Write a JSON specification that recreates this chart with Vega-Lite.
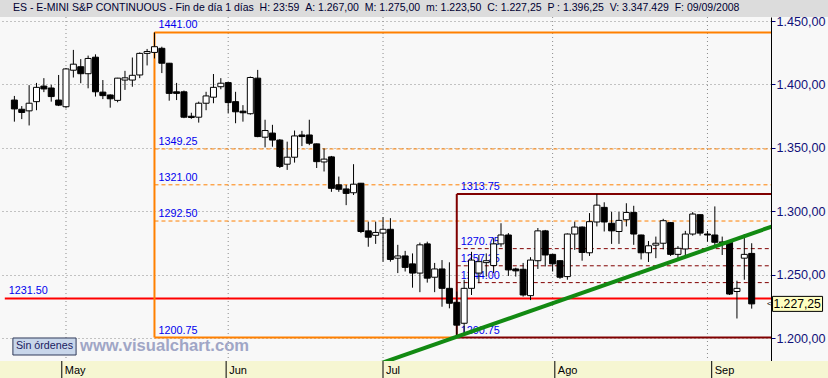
{
"$schema":"https://vega.github.io/schema/vega-lite/v6.json",
"background":"#f8f8f8",
"padding":0,
"spacing":0,
"bounds":"flush",
"config":{"view":{"stroke":null},"font":"Liberation Sans"},
"datasets":{
"ohlc":[
{"d":"2008-04-22","i":0,"o":1387.75,"h":1391,"l":1370.75,"c":1380.75},
{"d":"2008-04-23","i":1,"o":1380.5,"h":1383,"l":1372.75,"c":1378},
{"d":"2008-04-24","i":2,"o":1379.25,"h":1399.5,"l":1367.75,"c":1385.25},
{"d":"2008-04-25","i":3,"o":1386.5,"h":1401.25,"l":1379.75,"c":1397.75},
{"d":"2008-04-28","i":4,"o":1398.75,"h":1405,"l":1394,"c":1396.5},
{"d":"2008-04-29","i":5,"o":1397.25,"h":1399.75,"l":1386.5,"c":1390.5},
{"d":"2008-04-30","i":6,"o":1387.75,"h":1407.5,"l":1383,"c":1383.75},
{"d":"2008-05-01","i":7,"o":1382.5,"h":1413,"l":1381.25,"c":1412.25},
{"d":"2008-05-02","i":8,"o":1411.25,"h":1427.25,"l":1405.5,"c":1416},
{"d":"2008-05-05","i":9,"o":1414,"h":1420,"l":1401,"c":1408.5},
{"d":"2008-05-06","i":10,"o":1408.5,"h":1422.75,"l":1397,"c":1420.5},
{"d":"2008-05-07","i":11,"o":1421.5,"h":1423.75,"l":1390.5,"c":1394.25},
{"d":"2008-05-08","i":12,"o":1394,"h":1403.5,"l":1388.5,"c":1391.25},
{"d":"2008-05-09","i":13,"o":1391.75,"h":1392.25,"l":1381.75,"c":1388.75},
{"d":"2008-05-12","i":14,"o":1387.5,"h":1405.25,"l":1386,"c":1405},
{"d":"2008-05-13","i":15,"o":1403.5,"h":1410.75,"l":1395.75,"c":1405.25},
{"d":"2008-05-14","i":16,"o":1403.5,"h":1421.25,"l":1398.25,"c":1407.25},
{"d":"2008-05-15","i":17,"o":1407.5,"h":1425.25,"l":1405,"c":1424.5},
{"d":"2008-05-16","i":18,"o":1424.5,"h":1428,"l":1415,"c":1426},
{"d":"2008-05-19","i":19,"o":1425.25,"h":1441,"l":1420.5,"c":1429.75},
{"d":"2008-05-20","i":20,"o":1428.5,"h":1429.75,"l":1409,"c":1416.75},
{"d":"2008-05-21","i":21,"o":1416.75,"h":1417,"l":1387.25,"c":1393},
{"d":"2008-05-22","i":22,"o":1394.25,"h":1401.25,"l":1387.75,"c":1393},
{"d":"2008-05-23","i":23,"o":1394.25,"h":1395.25,"l":1373.5,"c":1374.25},
{"d":"2008-05-26","i":24,"o":1375,"h":1377.75,"l":1373,"c":1374},
{"d":"2008-05-27","i":25,"o":1374.25,"h":1386.5,"l":1370,"c":1385.25},
{"d":"2008-05-28","i":26,"o":1385.25,"h":1394.25,"l":1379.75,"c":1391},
{"d":"2008-05-29","i":27,"o":1390,"h":1408.25,"l":1385.25,"c":1397.75},
{"d":"2008-05-30","i":28,"o":1398.25,"h":1405,"l":1396.25,"c":1401},
{"d":"2008-06-02","i":29,"o":1401.5,"h":1401.5,"l":1377.5,"c":1385.75},
{"d":"2008-06-03","i":30,"o":1386.5,"h":1394.25,"l":1369.5,"c":1378.5},
{"d":"2008-06-04","i":31,"o":1379,"h":1383.75,"l":1370.75,"c":1377.75},
{"d":"2008-06-05","i":32,"o":1377,"h":1406.25,"l":1376.25,"c":1405.5},
{"d":"2008-06-06","i":33,"o":1405,"h":1411.5,"l":1358.5,"c":1359},
{"d":"2008-06-09","i":34,"o":1358.5,"h":1372.25,"l":1350.5,"c":1363.75},
{"d":"2008-06-10","i":35,"o":1361.75,"h":1368.25,"l":1351,"c":1356.25},
{"d":"2008-06-11","i":36,"o":1356.25,"h":1357,"l":1334.25,"c":1335.5},
{"d":"2008-06-12","i":37,"o":1337.25,"h":1355,"l":1332.75,"c":1342.75},
{"d":"2008-06-13","i":38,"o":1342.75,"h":1363.75,"l":1338.5,"c":1359.5},
{"d":"2008-06-16","i":39,"o":1360.25,"h":1363.5,"l":1351.5,"c":1359},
{"d":"2008-06-17","i":40,"o":1360.25,"h":1372.25,"l":1352.25,"c":1353.75},
{"d":"2008-06-18","i":41,"o":1353.25,"h":1353.5,"l":1334.25,"c":1339.25},
{"d":"2008-06-19","i":42,"o":1339,"h":1349.75,"l":1331.5,"c":1341.25},
{"d":"2008-06-20","i":43,"o":1343,"h":1343.75,"l":1315.5,"c":1318.25},
{"d":"2008-06-23","i":44,"o":1321,"h":1327.5,"l":1315.5,"c":1317.5},
{"d":"2008-06-24","i":45,"o":1317.75,"h":1321,"l":1305,"c":1314.25},
{"d":"2008-06-25","i":46,"o":1314.75,"h":1337.25,"l":1313,"c":1321.5},
{"d":"2008-06-26","i":47,"o":1322.25,"h":1322.5,"l":1283,"c":1284.25},
{"d":"2008-06-27","i":48,"o":1284.75,"h":1292,"l":1272.25,"c":1279.75},
{"d":"2008-06-30","i":49,"o":1281.25,"h":1292,"l":1274.5,"c":1283.5},
{"d":"2008-07-01","i":50,"o":1283,"h":1295.5,"l":1260.5,"c":1286},
{"d":"2008-07-02","i":51,"o":1286,"h":1294.75,"l":1260.5,"c":1262.25},
{"d":"2008-07-03","i":52,"o":1263.25,"h":1273.75,"l":1251.5,"c":1265},
{"d":"2008-07-04","i":53,"o":1265,"h":1269,"l":1252.75,"c":1256},
{"d":"2008-07-07","i":54,"o":1258.75,"h":1267,"l":1240,"c":1251.5},
{"d":"2008-07-08","i":55,"o":1251.5,"h":1275.5,"l":1236.5,"c":1273.75},
{"d":"2008-07-09","i":56,"o":1274.5,"h":1276.25,"l":1244,"c":1247.5},
{"d":"2008-07-10","i":57,"o":1248.25,"h":1259.5,"l":1236.5,"c":1254.75},
{"d":"2008-07-11","i":58,"o":1254.75,"h":1261.75,"l":1225,"c":1239.5},
{"d":"2008-07-14","i":59,"o":1239.5,"h":1260,"l":1223.75,"c":1227.75},
{"d":"2008-07-15","i":60,"o":1228.5,"h":1237,"l":1200.75,"c":1210.5},
{"d":"2008-07-16","i":61,"o":1212,"h":1246.25,"l":1204,"c":1239.5},
{"d":"2008-07-17","i":62,"o":1239.5,"h":1268.25,"l":1234.25,"c":1261.75},
{"d":"2008-07-18","i":63,"o":1251.5,"h":1265.75,"l":1243.5,"c":1260.5},
{"d":"2008-07-21","i":64,"o":1259.75,"h":1267,"l":1248.75,"c":1261.25},
{"d":"2008-07-22","i":65,"o":1257.5,"h":1279,"l":1251.5,"c":1274.5},
{"d":"2008-07-23","i":66,"o":1274.5,"h":1290.75,"l":1272.25,"c":1281.5},
{"d":"2008-07-24","i":67,"o":1281.5,"h":1283,"l":1249.25,"c":1254},
{"d":"2008-07-25","i":68,"o":1254.75,"h":1255.75,"l":1248.75,"c":1253.25},
{"d":"2008-07-28","i":69,"o":1254.5,"h":1259.5,"l":1233,"c":1234.25},
{"d":"2008-07-29","i":70,"o":1233.75,"h":1264,"l":1230.25,"c":1261.75},
{"d":"2008-07-30","i":71,"o":1261.25,"h":1287,"l":1254.75,"c":1284.75},
{"d":"2008-07-31","i":72,"o":1284.75,"h":1285.5,"l":1256.75,"c":1265.75},
{"d":"2008-08-01","i":73,"o":1266.25,"h":1266.5,"l":1252.75,"c":1258.75},
{"d":"2008-08-04","i":74,"o":1261.25,"h":1261.5,"l":1247,"c":1248.25},
{"d":"2008-08-05","i":75,"o":1248.75,"h":1282.75,"l":1246.25,"c":1282.25},
{"d":"2008-08-06","i":76,"o":1282.25,"h":1292,"l":1269.75,"c":1287.75},
{"d":"2008-08-07","i":77,"o":1287.75,"h":1288.25,"l":1261.25,"c":1267.75},
{"d":"2008-08-08","i":78,"o":1267.5,"h":1298.75,"l":1265,"c":1292},
{"d":"2008-08-11","i":79,"o":1291.75,"h":1313.75,"l":1288.25,"c":1305},
{"d":"2008-08-12","i":80,"o":1303.25,"h":1307.25,"l":1284.25,"c":1291.75},
{"d":"2008-08-13","i":81,"o":1290.75,"h":1299.75,"l":1274.5,"c":1284.75},
{"d":"2008-08-14","i":82,"o":1284.25,"h":1299.75,"l":1274.5,"c":1293},
{"d":"2008-08-15","i":83,"o":1293.5,"h":1306.5,"l":1288.25,"c":1299.25},
{"d":"2008-08-18","i":84,"o":1299.25,"h":1304.5,"l":1273.75,"c":1282.25},
{"d":"2008-08-19","i":85,"o":1281.5,"h":1281.75,"l":1262.25,"c":1267.5},
{"d":"2008-08-20","i":86,"o":1267.5,"h":1276.75,"l":1260.25,"c":1273},
{"d":"2008-08-21","i":87,"o":1273.5,"h":1280.25,"l":1263.25,"c":1275},
{"d":"2008-08-22","i":88,"o":1275,"h":1294.25,"l":1270.25,"c":1292.75},
{"d":"2008-08-25","i":89,"o":1291.25,"h":1291.75,"l":1265,"c":1266.25},
{"d":"2008-08-26","i":90,"o":1266.25,"h":1272.75,"l":1263.25,"c":1271},
{"d":"2008-08-27","i":91,"o":1270.5,"h":1284.75,"l":1264.5,"c":1282.25},
{"d":"2008-08-28","i":92,"o":1282.25,"h":1299.5,"l":1281,"c":1298},
{"d":"2008-08-29","i":93,"o":1297.5,"h":1297.75,"l":1281,"c":1283},
{"d":"2008-09-01","i":94,"o":1282.25,"h":1284.75,"l":1276.25,"c":1281.5},
{"d":"2008-09-02","i":95,"o":1281.5,"h":1304,"l":1271.25,"c":1275.75},
{"d":"2008-09-03","i":96,"o":1276,"h":1280.25,"l":1265.75,"c":1275.5},
{"d":"2008-09-04","i":97,"o":1275.75,"h":1277.5,"l":1234.25,"c":1235},
{"d":"2008-09-05","i":98,"o":1237,"h":1245.5,"l":1215.75,"c":1239.5},
{"d":"2008-09-08","i":99,"o":1263.25,"h":1282.25,"l":1246.25,"c":1266.25},
{"d":"2008-09-09","i":100,"o":1267,"h":1275,"l":1223.5,"c":1227.25}
],
"months":[{"i":7,"m":"May"},{"i":29,"m":"Jun"},{"i":50,"m":"Jul"},{"i":73,"m":"Ago"},{"i":94,"m":"Sep"}],
"levels":[
{"set":"A","kind":"edge","p":1441,"lbl":"1441.00","from":19,"to":115},
{"set":"A","kind":"mid","p":1349.25,"lbl":"1349.25","from":19,"to":115},
{"set":"A","kind":"mid","p":1321,"lbl":"1321.00","from":19,"to":115},
{"set":"A","kind":"mid","p":1292.5,"lbl":"1292.50","from":19,"to":115},
{"set":"A","kind":"edge","p":1200.75,"lbl":"1200.75","from":19,"to":60},
{"set":"B","kind":"edge","p":1313.75,"lbl":"1313.75","from":60,"to":115},
{"set":"B","kind":"mid","p":1270.75,"lbl":"1270.75","from":60,"to":115},
{"set":"B","kind":"mid","p":1257.25,"lbl":"1257.25","from":60,"to":115},
{"set":"B","kind":"mid","p":1244,"lbl":"1244.00","from":60,"to":115},
{"set":"B","kind":"edge","p":1200.75,"lbl":"1200.75","from":60,"to":115},
{"set":"R","kind":"edge","p":1231.5,"lbl":"1231.50","from":-1.3,"to":115}
],
"fibs":[{"set":"A","i":19,"lo":1200.75,"hi":1441},{"set":"B","i":60,"lo":1200.75,"hi":1313.75}],
"trend":[{"i":48,"p":1177.04},{"i":103,"p":1288.69}],
"last":[{"c":1227.25,"txt":"1.227,25"}],
"notes":[{"t":"www.visualchart.com","b":"Sin órdenes"}],
"head":[{"t":"ES - E-MINI S&P CONTINUOUS - Fin de día 1 días\u00a0\u00a0H: 23:59\u00a0\u00a0A: 1.267,00\u00a0\u00a0M: 1.275,00\u00a0\u00a0m: 1.223,50\u00a0\u00a0C: 1.227,25\u00a0\u00a0P : 1.396,25\u00a0\u00a0V: 3.347.429\u00a0\u00a0F: 09/09/2008"}]
},
"vconcat":[
{
"width":828,"height":17,
"view":{"fill":"#dcdcdc","stroke":null},
"data":{"name":"head"},
"mark":{"type":"text","align":"left","baseline":"alphabetic","dx":-401,"dy":2.5,"fontSize":10.5,"color":"#000033","font":"Liberation Sans"},
"encoding":{"text":{"field":"t"}}
},
{
"width":771,"height":344,
"view":{"fill":"#f8f8f8","stroke":null},
"resolve":{"axis":{"x":"independent","y":"independent"}},
"layer":[
{"data":{"name":"months"},
 "mark":{"type":"rule","color":"#8c8c8c","strokeDash":[1,3],"strokeWidth":1},
 "encoding":{"x":{"field":"i","type":"quantitative","scale":{"domain":[-1.272,101.94],"nice":false,"zero":false},"axis":{"orient":"bottom","domain":true,"domainColor":"#000000","domainWidth":1,"ticks":false,"labels":false,"grid":false,"title":null}}}},
{"data":{"name":"levels"},"transform":[{"filter":"datum.kind == 'mid'"}],
 "mark":{"type":"rule","strokeDash":[4,3],"strokeWidth":1,"clip":true},
 "encoding":{
  "x":{"field":"from","type":"quantitative","scale":{"domain":[-1.272,101.94],"nice":false,"zero":false},"axis":null},
  "x2":{"field":"to"},
  "y":{"field":"p","type":"quantitative","scale":{"domain":[1182.28,1453.15],"nice":false,"zero":false},
   "axis":{"orient":"right","values":[1200,1250,1300,1350,1400,1450],"grid":true,"gridColor":"#8c8c8c","gridDash":[1,3],"gridWidth":1,"domain":true,"domainColor":"#000000","domainWidth":1,"ticks":true,"tickColor":"#000080","tickSize":4,"labelColor":"#10107a","labelFontSize":12.6,"labelFont":"Liberation Sans","labelPadding":1,"labelExpr":"replace(replace(replace(format(datum.value, ',.2f'), ',', 'T'), '.', ','), 'T', '.')","title":null}},
  "color":{"field":"set","type":"nominal","scale":{"domain":["A","B","R"],"range":["#ff8000","#800000","#ff0000"]},"legend":null}}},
{"data":{"name":"levels"},"transform":[{"filter":"datum.kind == 'edge'"}],
 "mark":{"type":"rule","strokeWidth":2,"clip":true},
 "encoding":{
  "x":{"field":"from","type":"quantitative","scale":{"domain":[-1.272,101.94],"nice":false,"zero":false},"axis":null},
  "x2":{"field":"to"},
  "y":{"field":"p","type":"quantitative","scale":{"domain":[1182.28,1453.15],"nice":false,"zero":false},"axis":null},
  "color":{"field":"set","type":"nominal","scale":{"domain":["A","B","R"],"range":["#ff8000","#800000","#ff0000"]},"legend":null}}},
{"data":{"name":"fibs"},
 "mark":{"type":"rule","strokeWidth":2},
 "encoding":{
  "x":{"field":"i","type":"quantitative","scale":{"domain":[-1.272,101.94],"nice":false,"zero":false},"axis":null},
  "y":{"field":"lo","type":"quantitative","scale":{"domain":[1182.28,1453.15],"nice":false,"zero":false},"axis":null},
  "y2":{"field":"hi"},
  "color":{"field":"set","type":"nominal","scale":{"domain":["A","B","R"],"range":["#ff8000","#800000","#ff0000"]},"legend":null}}},
{"data":{"name":"levels"},
 "mark":{"type":"text","align":"left","baseline":"alphabetic","dx":4,"dy":-4,"fontSize":10.8,"color":"#0000ee","font":"Liberation Sans"},
 "encoding":{
  "x":{"field":"from","type":"quantitative","scale":{"domain":[-1.272,101.94],"nice":false,"zero":false},"axis":null},
  "y":{"field":"p","type":"quantitative","scale":{"domain":[1182.28,1453.15],"nice":false,"zero":false},"axis":null},
  "text":{"field":"lbl"}}},
{"data":{"name":"ohlc"},
 "mark":{"type":"rule","color":"#000000","strokeWidth":1},
 "encoding":{
  "x":{"field":"i","type":"quantitative","scale":{"domain":[-1.272,101.94],"nice":false,"zero":false},"axis":null},
  "y":{"field":"l","type":"quantitative","scale":{"domain":[1182.28,1453.15],"nice":false,"zero":false},"axis":null},
  "y2":{"field":"h"}}},
{"data":{"name":"ohlc"},
 "mark":{"type":"bar","width":6,"stroke":"#000000","strokeWidth":1},
 "encoding":{
  "x":{"field":"i","type":"quantitative","scale":{"domain":[-1.272,101.94],"nice":false,"zero":false},"axis":null},
  "y":{"field":"o","type":"quantitative","scale":{"domain":[1182.28,1453.15],"nice":false,"zero":false},"axis":null},
  "y2":{"field":"c"},
  "fill":{"condition":{"test":"datum.c >= datum.o","value":"#ffffff"},"value":"#000000"}}},
{"data":{"name":"trend"},
 "mark":{"type":"line","color":"#128a12","strokeWidth":4,"clip":true},
 "encoding":{
  "x":{"field":"i","type":"quantitative","scale":{"domain":[-1.272,101.94],"nice":false,"zero":false},"axis":null},
  "y":{"field":"p","type":"quantitative","scale":{"domain":[1182.28,1453.15],"nice":false,"zero":false},"axis":null}}},
{"data":{"name":"notes"},
 "mark":{"type":"text","align":"left","baseline":"alphabetic","fontSize":16.6,"fontWeight":"bold","color":"#a0a6c6","font":"Liberation Sans"},
 "encoding":{
  "x":{"datum":8.9,"type":"quantitative","scale":{"domain":[-1.272,101.94],"nice":false,"zero":false},"axis":null},
  "y":{"datum":1190,"type":"quantitative","scale":{"domain":[1182.28,1453.15],"nice":false,"zero":false},"axis":null},
  "text":{"field":"t"}}},
{"data":{"name":"notes"},
 "mark":{"type":"rect","fill":"#c8d6ea","stroke":"#303a5a","strokeWidth":1},
 "encoding":{
  "x":{"datum":-0.2,"type":"quantitative","scale":{"domain":[-1.272,101.94],"nice":false,"zero":false},"axis":null},
  "x2":{"datum":8.37},
  "y":{"datum":1200.4,"type":"quantitative","scale":{"domain":[1182.28,1453.15],"nice":false,"zero":false},"axis":null},
  "y2":{"datum":1187}}},
{"data":{"name":"notes"},
 "mark":{"type":"text","align":"center","baseline":"middle","fontSize":10.7,"color":"#1a2060","font":"Liberation Sans"},
 "encoding":{
  "x":{"datum":4.08,"type":"quantitative","scale":{"domain":[-1.272,101.94],"nice":false,"zero":false},"axis":null},
  "y":{"datum":1193.7,"type":"quantitative","scale":{"domain":[1182.28,1453.15],"nice":false,"zero":false},"axis":null},
  "text":{"field":"b"}}},
{"data":{"name":"last"},
 "mark":{"type":"point","shape":"M-1,-0.3L1,-0.3L1,0.3L-1,0.3Z","size":2500,"filled":true,"fill":"#ffffc0","stroke":"#000000","strokeWidth":1,"opacity":1},
 "encoding":{
  "x":{"datum":106.22,"type":"quantitative","scale":{"domain":[-1.272,101.94],"nice":false,"zero":false},"axis":null},
  "y":{"field":"c","type":"quantitative","scale":{"domain":[1182.28,1453.15],"nice":false,"zero":false},"axis":null}}},
{"data":{"name":"last"},
 "mark":{"type":"text","align":"left","baseline":"middle","fontSize":12.2,"color":"#000000","font":"Liberation Sans"},
 "encoding":{
  "x":{"datum":102.95,"type":"quantitative","scale":{"domain":[-1.272,101.94],"nice":false,"zero":false},"axis":null},
  "y":{"field":"c","type":"quantitative","scale":{"domain":[1182.28,1453.15],"nice":false,"zero":false},"axis":null},
  "text":{"field":"txt"}}},
{"data":{"name":"last"},
 "mark":{"type":"text","align":"center","baseline":"middle","fontSize":8,"color":"#000000","text":"<"},
 "encoding":{
  "x":{"datum":102.4,"type":"quantitative","scale":{"domain":[-1.272,101.94],"nice":false,"zero":false},"axis":null},
  "y":{"field":"c","type":"quantitative","scale":{"domain":[1182.28,1453.15],"nice":false,"zero":false},"axis":null}}}
]
},
{
"width":828,"height":17,
"view":{"fill":"#f6f6d2","stroke":null},
"data":{"name":"months"},
"layer":[
{"mark":{"type":"rule","color":"#000000","strokeWidth":1},
 "encoding":{"x":{"field":"i","type":"quantitative","scale":{"domain":[-1.272,109.57],"nice":false,"zero":false},"axis":null}}},
{"mark":{"type":"text","align":"left","baseline":"middle","dx":3,"dy":1,"fontSize":11,"color":"#000000","font":"Liberation Sans"},
 "encoding":{"x":{"field":"i","type":"quantitative","scale":{"domain":[-1.272,109.57],"nice":false,"zero":false},"axis":null},"text":{"field":"m"}}}
]
}
]
}
